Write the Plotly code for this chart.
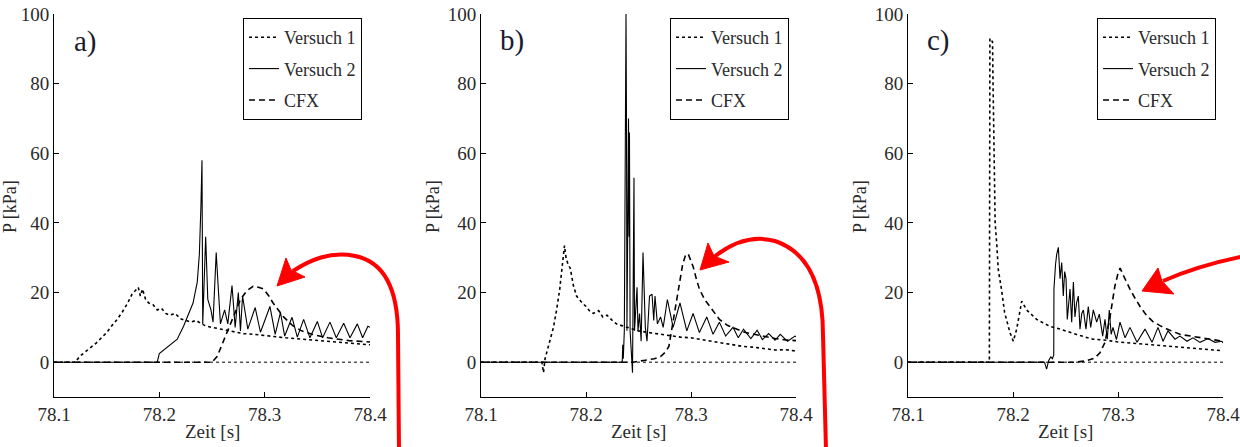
import plotly.graph_objects as go

# ---------------- data ----------------
X_TICKS = [78.1, 78.2, 78.3, 78.4]
Y_TICKS = [0, 20, 40, 60, 80, 100]
SERIES_NAMES = ["Versuch 1", "Versuch 2", "CFX"]
PANEL_LABELS = ["a)", "b)", "c)"]
X_TITLE = "Zeit [s]"
Y_TITLE = "P [kPa]"

A_V1 = [(78.100, 0), (78.120, 0), (78.125, 1.8), (78.130, 3), (78.135, 4.2), (78.140, 5.5), (78.145, 7),
        (78.150, 8.5), (78.155, 10.5), (78.160, 12.3), (78.165, 14.5), (78.170, 17), (78.174, 19.5),
        (78.177, 20.5), (78.180, 21.5), (78.182, 19), (78.184, 21), (78.187, 18), (78.190, 17),
        (78.194, 16.5), (78.198, 15), (78.202, 15.5), (78.206, 14), (78.210, 13.5), (78.215, 14),
        (78.220, 12.5), (78.225, 12), (78.230, 11.5), (78.235, 12), (78.240, 11), (78.245, 10.3),
        (78.250, 10), (78.260, 9.3), (78.270, 8.8), (78.280, 8.2), (78.290, 8), (78.300, 7.6),
        (78.320, 7), (78.340, 6.5), (78.360, 6), (78.380, 5.5), (78.400, 5)]
A_V2 = [(78.100, 0), (78.198, 0), (78.200, 2.5), (78.207, 4.3), (78.212, 5.5), (78.217, 6.6), (78.223, 10.3),
        (78.228, 14.3), (78.232, 17), (78.236, 23), (78.238, 31), (78.2395, 45), (78.2405, 58),
        (78.2412, 11), (78.244, 36), (78.246, 18), (78.249, 15), (78.251, 11.5), (78.254, 31.5),
        (78.256, 21), (78.258, 11), (78.262, 15), (78.265, 11), (78.269, 22), (78.272, 10), (78.275, 20),
        (78.277, 9), (78.279, 19), (78.284, 9.5), (78.291, 15.7), (78.296, 8.6), (78.305, 16),
        (78.310, 8), (78.315, 14.3), (78.319, 7.5), (78.326, 12.9), (78.331, 7.2), (78.337, 12.3),
        (78.343, 7), (78.350, 11.7), (78.355, 7), (78.362, 11.5), (78.368, 7), (78.375, 11.2),
        (78.381, 7), (78.388, 11), (78.393, 7), (78.398, 10.3), (78.400, 10)]
A_CFX = [(78.100, 0), (78.250, 0), (78.255, 1.7), (78.259, 4.6), (78.264, 8.6), (78.270, 13), (78.277, 18),
         (78.283, 20.5), (78.289, 21.8), (78.294, 21.5), (78.299, 21), (78.304, 19), (78.308, 17),
         (78.313, 15), (78.318, 13), (78.323, 11.5), (78.327, 10.4), (78.335, 9), (78.345, 8),
         (78.360, 7), (78.380, 6.2), (78.400, 5.8)]

B_V1 = [(78.100, 0), (78.158, 0), (78.1595, -3), (78.161, 1), (78.166, 6.6), (78.169, 10), (78.172, 15),
        (78.175, 21), (78.177, 26.6), (78.1795, 33.5), (78.181, 30), (78.183, 28), (78.185, 27),
        (78.188, 22), (78.191, 19), (78.195, 17.5), (78.200, 16), (78.204, 14.5), (78.207, 14),
        (78.212, 14.8), (78.216, 13), (78.220, 13.5), (78.225, 12), (78.229, 11), (78.234, 10.5),
        (78.240, 10), (78.250, 9), (78.260, 8.5), (78.270, 8), (78.280, 7.5), (78.290, 7.2),
        (78.300, 7), (78.310, 6.5), (78.320, 6), (78.330, 5.5), (78.340, 5), (78.350, 4.5),
        (78.360, 4.3), (78.370, 4), (78.380, 3.5), (78.390, 3.6), (78.400, 3.2)]
B_V2 = [(78.100, 0), (78.2345, 0), (78.235, 5), (78.2355, 1), (78.2365, 9), (78.2372, 78), (78.2376, 66),
        (78.2381, 100), (78.2386, 66), (78.2390, 9), (78.2405, 70), (78.2410, 36), (78.2414, 66),
        (78.2420, 9), (78.2443, -3), (78.2457, 53), (78.2462, 9), (78.2486, 21.5), (78.2495, 9),
        (78.2510, 14), (78.2525, 6), (78.2543, 31.5), (78.2565, 10), (78.2581, 6), (78.2605, 19),
        (78.2629, 19.5), (78.2645, 12), (78.2657, 19), (78.2680, 11), (78.2710, 13), (78.2735, 10),
        (78.2775, 18), (78.2830, 10), (78.2895, 17), (78.2960, 9), (78.3020, 14), (78.3080, 8.5),
        (78.3150, 13), (78.3210, 8), (78.3270, 11.5), (78.3330, 7.5), (78.3400, 10), (78.3450, 7),
        (78.3500, 9.5), (78.3570, 6.8), (78.3630, 9.2), (78.3680, 6.5), (78.3740, 8.2), (78.3800, 6.3),
        (78.3850, 8), (78.3920, 6), (78.3990, 7.5), (78.4000, 7.3)]
B_CFX = [(78.100, 0), (78.245, 0), (78.255, 0.5), (78.265, 1), (78.271, 1.6), (78.276, 3), (78.279, 4.6),
         (78.283, 12), (78.286, 17.5), (78.289, 23), (78.292, 28), (78.295, 31), (78.2975, 31),
         (78.300, 29), (78.302, 27.5), (78.305, 24), (78.308, 21), (78.313, 18), (78.318, 16),
         (78.323, 14), (78.327, 12.3), (78.335, 10.5), (78.344, 9.5), (78.352, 8.5), (78.360, 8),
         (78.370, 7.3), (78.380, 6.8), (78.390, 6.4), (78.400, 6.2)]

C_V1 = [(78.100, 0), (78.1775, 0), (78.178, 93), (78.1805, 92), (78.181, 80), (78.1815, 70), (78.182, 58),
        (78.1825, 50), (78.183, 40), (78.1845, 34), (78.186, 26.6), (78.189, 21), (78.192, 14.3),
        (78.197, 8.6), (78.2003, 6), (78.2035, 9.5), (78.2083, 17.5), (78.213, 15), (78.2225, 12.3),
        (78.235, 10.3), (78.245, 9.5), (78.260, 8), (78.276, 6.6), (78.289, 6.3), (78.300, 5.8),
        (78.320, 5.3), (78.340, 4.8), (78.360, 4.3), (78.380, 3.8), (78.400, 3.3)]
C_V2 = [(78.100, 0), (78.230, 0), (78.232, -2), (78.234, 0.5), (78.236, 1.5), (78.2375, 1), (78.2388, 2),
        (78.239, 21), (78.2405, 28), (78.2416, 31), (78.2432, 33), (78.2448, 24), (78.2464, 28.6),
        (78.2479, 19), (78.2492, 26), (78.2505, 24), (78.2517, 12.3), (78.2530, 18), (78.2543, 21),
        (78.2559, 11.5), (78.2575, 23), (78.2590, 13), (78.2605, 17), (78.2622, 19), (78.2638, 9.5),
        (78.2655, 14), (78.2670, 15), (78.2695, 9.5), (78.2717, 16), (78.2740, 10), (78.2765, 15),
        (78.2797, 11.5), (78.2822, 13.8), (78.2854, 7.5), (78.2876, 12.3), (78.2898, 6.6),
        (78.2917, 15), (78.2935, 8), (78.2952, 10), (78.2985, 6.5), (78.3019, 11.5), (78.3067, 7),
        (78.3114, 10), (78.3181, 5.7), (78.3257, 9.5), (78.3324, 5.7), (78.3381, 10), (78.3429, 6),
        (78.3476, 9), (78.3543, 6.6), (78.3590, 7.5), (78.3657, 6), (78.3714, 7), (78.3781, 5.7),
        (78.3857, 6.8), (78.3924, 5.7), (78.3990, 6), (78.4000, 5.5)]
C_CFX = [(78.100, 0), (78.260, 0), (78.270, 0.4), (78.278, 1.2), (78.283, 2.8), (78.2876, 5.7),
         (78.2924, 13), (78.297, 21.8), (78.300, 25.5), (78.302, 27), (78.305, 25), (78.308, 23),
         (78.3114, 21), (78.316, 18.5), (78.321, 16), (78.327, 13.5), (78.333, 11.7), (78.340, 10.5),
         (78.3467, 9.5), (78.359, 8), (78.370, 7.5), (78.378, 7), (78.390, 6.5), (78.400, 6)]

PANELS = [(A_V1, A_V2, A_CFX), (B_V1, B_V2, B_CFX), (C_V1, C_V2, C_CFX)]

# ---------------- layout / style ----------------
W, H = 1240, 447
FONT = "Liberation Serif, Times New Roman, serif"
TXT = "#2a2a2a"
X_PIX = [(54, 370), (481, 796), (908, 1223)]   # plot area left/right in pixels
Y_PIX = (14, 397)                              # plot area top/bottom in pixels
LEG_PIX = [(243, 18), (670, 18), (1097, 18)]
LABEL_PIX = [(85, 42), (512, 40), (938, 40)]
YTITLE_PIX = [(10, 207), (433, 207), (860, 207)]
STYLES = [dict(dash="dot", width=1.6), dict(dash="solid", width=1.1), dict(dash="6px,4px", width=1.6)]


def px(x, y):
    return x / W, 1 - y / H


fig = go.Figure()
for i, series in enumerate(PANELS):
    xa = "x" if i == 0 else f"x{i+1}"
    ya = "y" if i == 0 else f"y{i+1}"
    lg = "legend" if i == 0 else f"legend{i+1}"
    for j, pts in enumerate(series):
        fig.add_trace(go.Scatter(
            x=[p[0] for p in pts], y=[p[1] for p in pts], mode="lines",
            name=SERIES_NAMES[j], xaxis=xa, yaxis=ya, legend=lg,
            legendgroup=f"p{i}s{j}",
            line=dict(color="black", **STYLES[j]),
        ))

y0, y1 = 1 - Y_PIX[1] / H, 1 - Y_PIX[0] / H
axis_common = dict(showline=True, linecolor="black", linewidth=1, ticks="inside", ticklen=5,
                   tickcolor="black", showgrid=False, zeroline=False, mirror=False, automargin=False,
                   ticklabeloverflow="allow",
                   tickfont=dict(family=FONT, size=19, color=TXT))
layout = dict(width=W, height=H, margin=dict(l=0, r=0, t=0, b=0, pad=0), autosize=False,
              paper_bgcolor="white", plot_bgcolor="white", showlegend=True)
for i in range(3):
    sfx = "" if i == 0 else str(i + 1)
    layout[f"xaxis{sfx}"] = dict(domain=[X_PIX[i][0] / W, X_PIX[i][1] / W], range=[78.1, 78.4],
                                 tickvals=X_TICKS, ticktext=[f"{v:.1f}" for v in X_TICKS],
                                 anchor=f"y{sfx}", **axis_common)
    layout[f"yaxis{sfx}"] = dict(domain=[y0, y1], range=[-10, 100], tickvals=Y_TICKS,
                                 anchor=f"x{sfx}", **axis_common)
    lx, ly = px(*LEG_PIX[i])
    layout[f"legend{sfx}"] = dict(x=lx, y=ly, xanchor="left", yanchor="top", bgcolor="white",
                                  bordercolor="black", borderwidth=1, traceorder="grouped",
                                  tracegroupgap=5, itemwidth=30,
                                  font=dict(family=FONT, size=18, color=TXT))
fig.update_layout(**layout)

anns = []
for i in range(3):
    x, y = px(*LABEL_PIX[i])
    anns.append(dict(x=x, y=y, xref="paper", yref="paper", text=PANEL_LABELS[i], showarrow=False,
                     xanchor="center", yanchor="middle",
                     font=dict(family=FONT, size=29, color="#1b1b2e")))
    x, y = px(*YTITLE_PIX[i])
    anns.append(dict(x=x, y=y, xref="paper", yref="paper", text=Y_TITLE, showarrow=False, textangle=-90,
                     xanchor="center", yanchor="middle",
                     font=dict(family=FONT, size=18, color=TXT)))
    x, y = px((X_PIX[i][0] + X_PIX[i][1]) / 2, 431)
    anns.append(dict(x=x, y=y, xref="paper", yref="paper", text=X_TITLE, showarrow=False,
                     xanchor="center", yanchor="middle",
                     font=dict(family=FONT, size=19, color=TXT)))
fig.update_layout(annotations=anns)

# dotted zero reference lines
for i in range(3):
    sfx = "" if i == 0 else str(i + 1)
    fig.add_shape(type="line", xref=f"x{sfx}", yref=f"y{sfx}", x0=78.1, x1=78.4, y0=0, y1=0,
                  line=dict(color="black", width=1, dash="dot"), layer="below")


# red annotation arrows (pixel-space decoration)
def path_from(cmds):
    out = []
    for c in cmds:
        if isinstance(c, str):
            out.append(c)
        else:
            x, y = px(*c)
            out.append(f"{x:.5f},{y:.5f}")
    return " ".join(out)


RED = "#ff0000"
curves = [
    ["M", (399, 450), "L", (398, 335), "C", (398, 290), (385, 262), (355, 256), "C", (330, 251), (310, 260), (293, 271)],
    ["M", (826, 450), "L", (823, 335), "C", (823, 285), (808, 252), (775, 241), "C", (750, 234), (728, 246), (714, 257)],
    ["M", (1245, 256), "C", (1215, 262), (1188, 270), (1163, 281)],
]
heads = [
    ["M", (277, 286), "L", (286, 258), "L", (291, 270), "L", (305, 277), "Z"],
    ["M", (700, 270), "L", (708, 243), "L", (714, 256), "L", (729, 262), "Z"],
    ["M", (1142, 291), "L", (1158, 268), "L", (1162, 281), "L", (1174, 294), "Z"],
]
for c in curves:
    fig.add_shape(type="path", xref="paper", yref="paper", path=path_from(c),
                  line=dict(color=RED, width=4), fillcolor="rgba(0,0,0,0)")
for h in heads:
    fig.add_shape(type="path", xref="paper", yref="paper", path=path_from(h),
                  line=dict(color=RED, width=1), fillcolor=RED)

fig.write_html("out.html", config={"displayModeBar": False},
               post_script="document.body.style.margin='0';")
